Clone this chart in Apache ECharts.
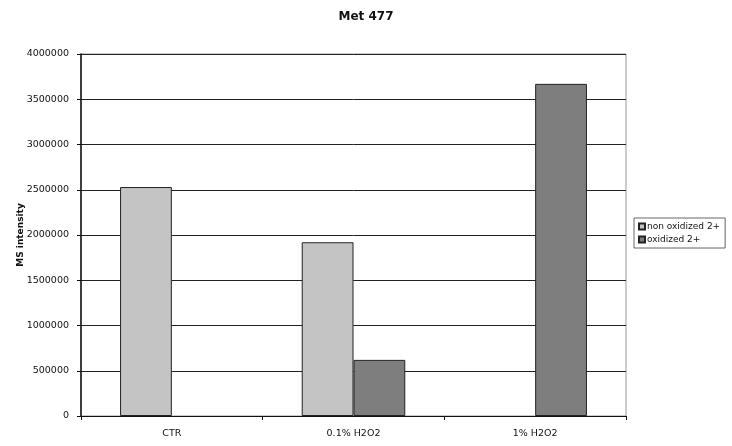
<!DOCTYPE html>
<html>
<head>
<meta charset="utf-8">
<script src="https://cdn.jsdelivr.net/npm/echarts@6/dist/echarts.min.js"></script>
<style>html,body{margin:0;padding:0;background:#fff;}#c{width:732px;height:446px;}</style>
</head>
<body>
<div id="c"></div>
<script>
var categories = ['CTR', '0.1% H2O2', '1% H2O2'];
var nonOxidized = [2530000, 1920000, null];
var oxidized = [null, 620000, 3670000];
var seriesNames = ['non oxidized 2+', 'oxidized 2+'];
var yTicks = [0, 500000, 1000000, 1500000, 2000000, 2500000, 3000000, 3500000, 4000000];

var chart = echarts.init(document.getElementById('c'));
var font = 'DejaVu Sans';
chart.setOption({
  animation: false,
  backgroundColor: '#fff',
  title: {
    text: 'Met 477', left: 'center', top: 6,
    textStyle: { fontFamily: font, fontSize: 12, fontWeight: 'bold', color: '#111' }
  },
  legend: {
    orient: 'vertical', left: 634, top: 218,
    data: seriesNames,
    icon: 'rect', itemWidth: 6, itemHeight: 6, itemGap: 4,
    borderColor: '#666', borderWidth: 1, padding: [4, 5, 4, 4],
    textStyle: { fontFamily: font, fontSize: 9, color: '#111', padding: [0, 0, 0, -3] }
  },
  grid: { left: 81, right: 106, top: 54, bottom: 30, show: true, borderColor: '#999', borderWidth: 1 },
  xAxis: {
    type: 'category', data: categories,
    axisLine: { lineStyle: { color: '#111', width: 1 } },
    axisTick: { show: true, length: 4, lineStyle: { color: '#111' } },
    axisLabel: { fontFamily: font, fontSize: 9.5, color: '#111', margin: 13 }
  },
  yAxis: {
    type: 'value', min: yTicks[0], max: yTicks[yTicks.length - 1], interval: yTicks[1] - yTicks[0],
    name: 'MS intensity', nameLocation: 'middle', nameGap: 56, nameRotate: 90,
    nameMoveOverlap: false,
    nameTextStyle: { fontFamily: font, fontSize: 9, fontWeight: 'bold', color: '#111' },
    axisLine: { show: true, lineStyle: { color: '#111', width: 1.5 } },
    axisTick: { show: true, inside: false, length: 4, lineStyle: { color: '#111' } },
    axisLabel: { fontFamily: font, fontSize: 9.5, color: '#111', margin: 12, formatter: function (v) { return String(v); } },
    splitLine: { lineStyle: { color: '#222', width: 1 } }
  },
  series: [
    {
      name: seriesNames[0], type: 'bar', data: nonOxidized,
      barGap: '0%', barCategoryGap: '43%',
      itemStyle: { color: '#c4c4c4', borderColor: '#222', borderWidth: 1 }
    },
    {
      name: seriesNames[1], type: 'bar', data: oxidized,
      itemStyle: { color: '#7e7e7e', borderColor: '#222', borderWidth: 1 }
    }
  ]
});
</script>
</body>
</html>
